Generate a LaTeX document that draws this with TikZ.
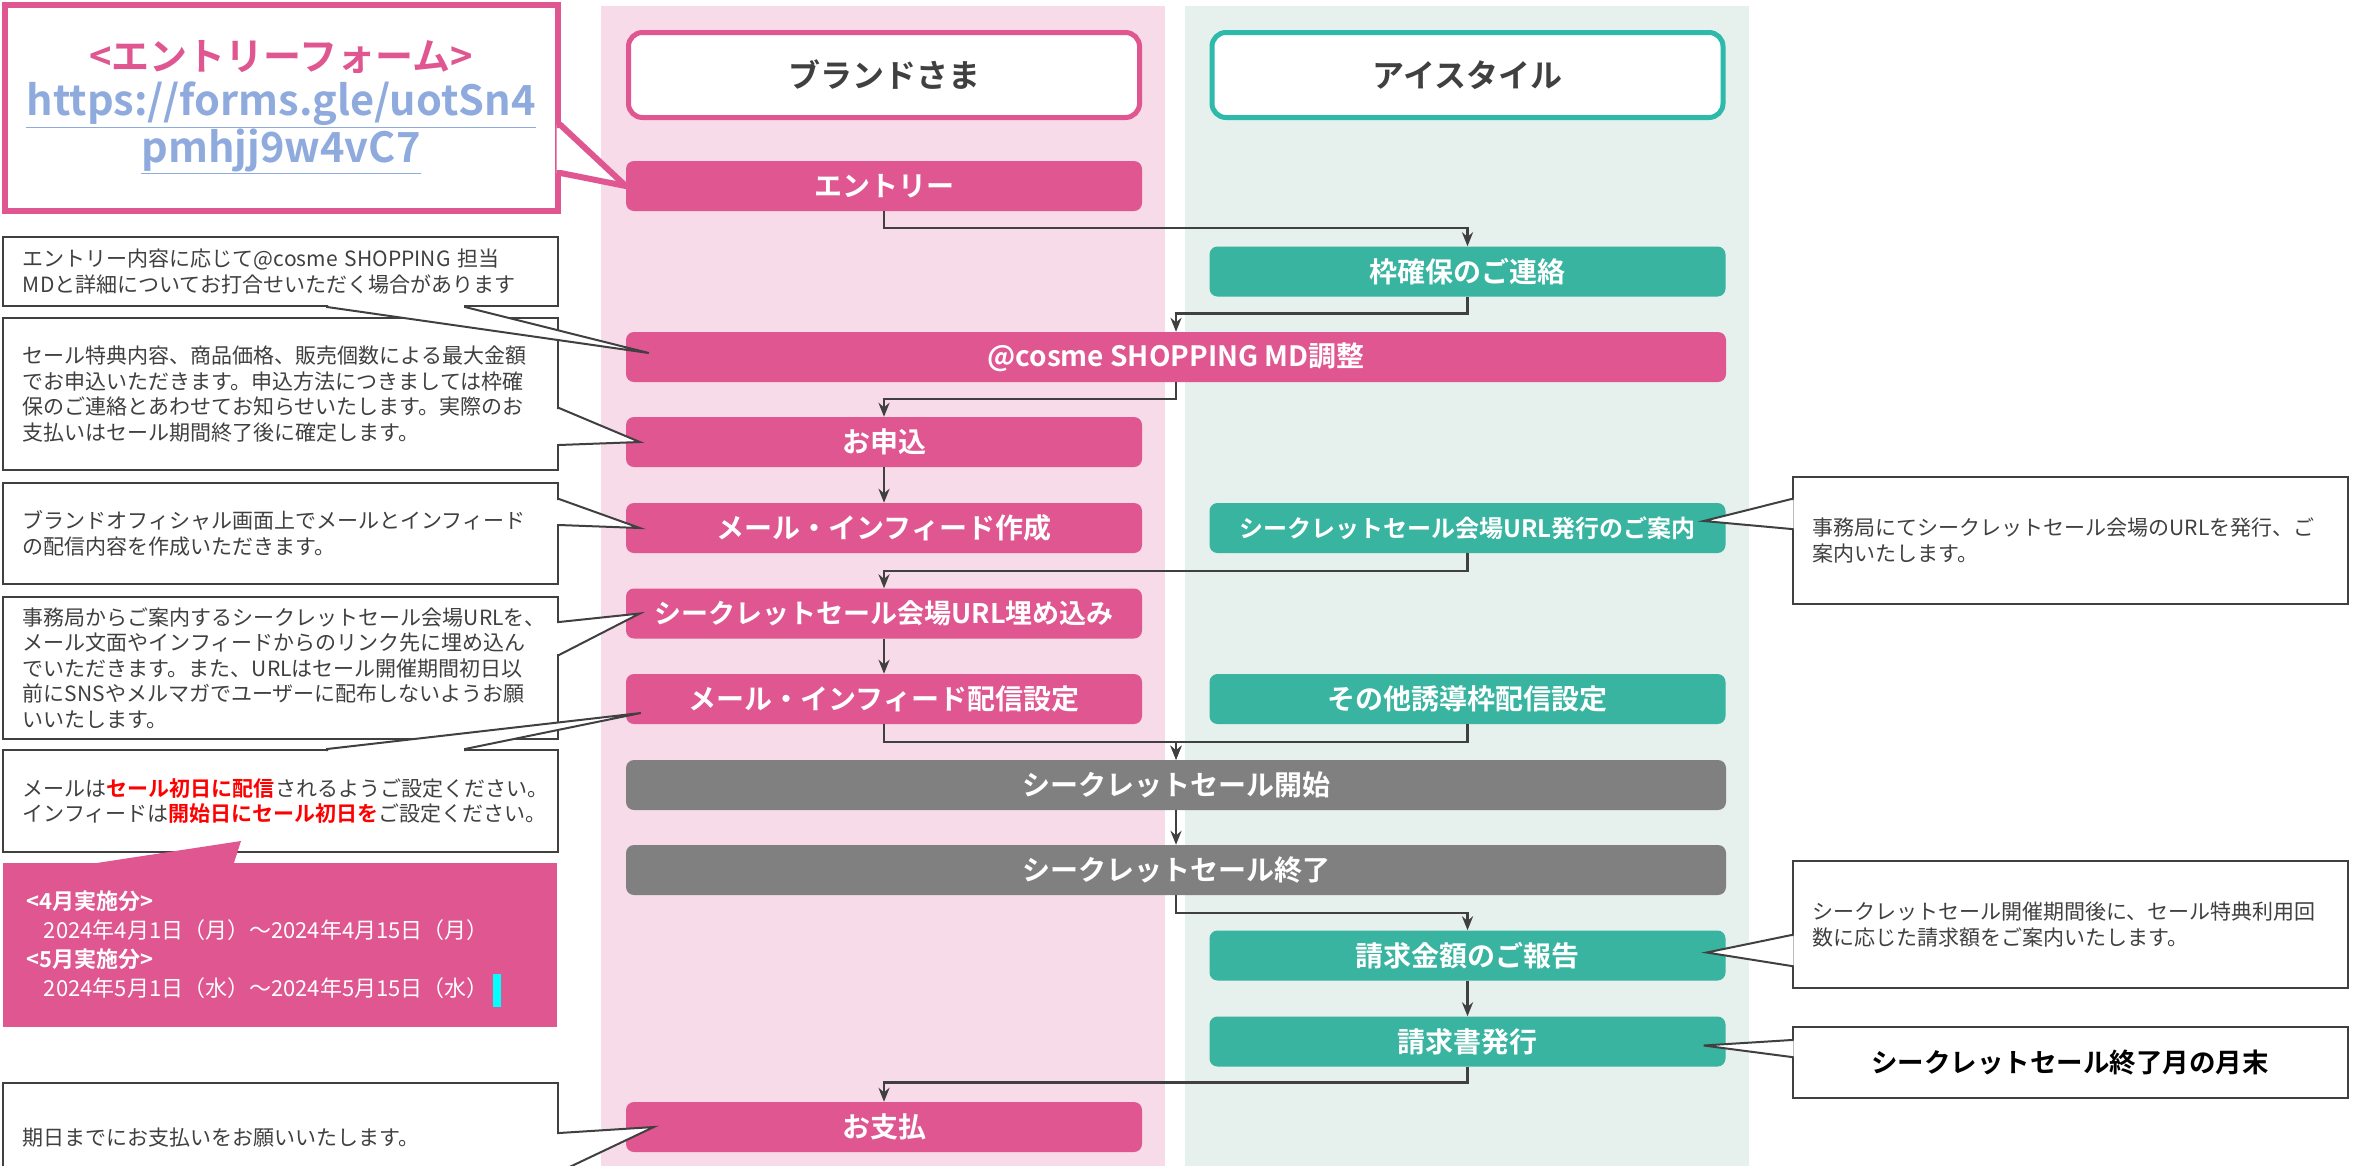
\documentclass[tikz,border=0pt]{standalone}
\usepackage{fontspec}
\setmainfont{Noto Sans CJK JP}[BoldFont={Noto Sans CJK JP Bold}]
\usepackage{tikz}
\usetikzlibrary{arrows.meta, calc}
\definecolor{brand}{RGB}{223, 86, 144}
\definecolor{brandlane}{RGB}{247, 219, 232}
\definecolor{istyle}{RGB}{56, 180, 160}
\definecolor{istyleline}{RGB}{45, 186, 171}
\definecolor{istylelane}{RGB}{230, 240, 236}
\definecolor{shared}{RGB}{128, 128, 128}
\definecolor{ink}{RGB}{64, 64, 64}
\definecolor{urlblue}{RGB}{143, 170, 220}
\definecolor{alert}{RGB}{255, 0, 0}
\definecolor{cursor}{RGB}{0, 255, 255}
\tikzstyle{header} = [rectangle, rounded corners=14pt, minimum width=511pt, minimum height=85pt, line width=5pt, fill=white, text=ink, font={\fontsize{32}{38}\selectfont\bfseries}]
\tikzstyle{brandstep} = [rectangle, rounded corners=8pt, minimum width=516pt, minimum height=50pt, text centered, fill=brand, text=white, font={\fontsize{28}{34}\selectfont\bfseries}]
\tikzstyle{istylestep} = [brandstep, fill=istyle]
\tikzstyle{widestep} = [brandstep, minimum width=1100pt]
\tikzstyle{sharedstep} = [widestep, fill=shared]
\tikzstyle{formbox} = [rectangle, draw=brand, line width=6pt, fill=white, minimum width=553pt, minimum height=206pt, align=center, font={\fontsize{38}{45}\selectfont\bfseries}]
\tikzstyle{formpointer} = [draw=brand, line width=6pt, fill=white]
\tikzstyle{note} = [rectangle, draw=ink, line width=2pt, fill=white, text=ink, minimum width=555pt, text width=515pt, inner xsep=20pt, align=left, font={\fontsize{21}{25.5}\selectfont}]
\tikzstyle{pointer} = [draw=ink, line width=2pt, fill=white]
\tikzstyle{period} = [rectangle, fill=brand, text=white, minimum width=554pt, minimum height=164pt, text width=506pt, inner xsep=24pt, align=left, font={\fontsize{22}{29}\selectfont}]
\tikzstyle{arrow} = [draw=ink, line width=2.5pt, -{Stealth[length=14pt, width=11pt]}]

\begin{document}
\begin{tikzpicture}[x=1pt, y=-1pt]
    \clip (0,0) rectangle (2357,1165);

    % Lanes
    \fill[brandlane] (601,6) rectangle (1165,1175);
    \fill[istylelane] (1185,6) rectangle (1749,1175);

    % Lane headers
    \node[header, draw=brand] (brandhead) at (884,75) {ブランドさま};
    \node[header, draw=istyleline] (istylehead) at (1467.5,75) {アイスタイル};

    % Steps
    \node[brandstep] (entry) at (884,186) {エントリー};
    \node[istylestep] (frame) at (1467.5,271.5) {枠確保のご連絡};
    \node[widestep] (cosme) at (1176,357) {@cosme SHOPPING MD調整};
    \node[brandstep] (apply) at (884,442) {お申込};
    \node[brandstep] (mail) at (884,528) {メール・インフィード作成};
    \node[istylestep, font={\fontsize{24}{30}\selectfont\bfseries}] (urlinfo) at (1467.5,528) {シークレットセール会場URL発行のご案内};
    \node[brandstep, font={\fontsize{27}{33}\selectfont\bfseries}] (embed) at (884,613.5) {シークレットセール会場URL埋め込み};
    \node[brandstep] (deliv) at (884,699) {メール・インフィード配信設定};
    \node[istylestep] (other) at (1467.5,699) {その他誘導枠配信設定};
    \node[sharedstep] (start) at (1176,785) {シークレットセール開始};
    \node[sharedstep] (close) at (1176,870) {シークレットセール終了};
    \node[istylestep] (report) at (1467.5,955.5) {請求金額のご報告};
    \node[istylestep] (invoice) at (1467.5,1041.5) {請求書発行};
    \node[brandstep] (pay) at (884,1127) {お支払};

    % Arrows
    \draw[arrow] (entry.south) -- ++(0,17) -| (frame.north);
    \draw[arrow] (frame.south) -- ++(0,17) -| (cosme.north);
    \draw[arrow] (cosme.south) -- ++(0,17) -| (apply.north);
    \draw[arrow] (apply) -- (mail);
    \draw[arrow] (urlinfo.south) -- ++(0,18) -| (embed.north);
    \draw[arrow] (embed) -- (deliv);
    \draw[arrow] (deliv.south) -- ++(0,18) -| (start.north);
    \draw[arrow] (other.south) -- ++(0,18) -| (start.north);
    \draw[arrow] (start) -- (close);
    \draw[arrow] (close.south) -- ++(0,18) -| (report.north);
    \draw[arrow] (report) -- (invoice);
    \draw[arrow] (invoice.south) -- ++(0,16) -| (pay.north);

    % Entry form
    \node[formbox] (form) at (281,107.5) {\textcolor{brand}{<エントリーフォーム>}\\{\fontsize{41.5}{45}\selectfont\textcolor{urlblue}{\underline{https://forms.gle/uotSn4}}}\\{\fontsize{41.5}{45}\selectfont\textcolor{urlblue}{\underline{pmhjj9w4vC7}}}};
    \filldraw[formpointer] (form.east |- 0,125) ++(-4,0) -- ++(4,0) -- (entry.west) -- (form.east |- 0,173) -- ++(-4,0);

    % Notes on the brand side
    \node[note, minimum height=69pt] (mdnote) at (280.5,271.5) {エントリー内容に応じて@cosme SHOPPING 担当\\MDと詳細についてお打合せいただく場合があります};
    \node[note, minimum height=152pt] (applynote) at (280.5,394) {セール特典内容、商品価格、販売個数による最大金額\\でお申込いただきます。申込方法につきましては枠確\\保のご連絡とあわせてお知らせいたします。実際のお\\支払いはセール期間終了後に確定します。};
    \node[note, minimum height=101pt] (mailnote) at (280.5,533.5) {ブランドオフィシャル画面上でメールとインフィード\\の配信内容を作成いただきます。};
    \node[note, minimum height=142pt] (embednote) at (280.5,668) {事務局からご案内するシークレットセール会場URLを、\\メール文面やインフィードからのリンク先に埋め込ん\\でいただきます。また、URLはセール開催期間初日以\\前にSNSやメルマガでユーザーに配布しないようお願\\いいたします。};
    \node[note, minimum height=102pt] (delivnote) at (280.5,801) {メールは\textcolor{alert}{\bfseries セール初日に配信}されるようご設定ください。\\インフィードは\textcolor{alert}{\bfseries 開始日にセール初日を}ご設定ください。};
    \node[note, minimum height=110pt] (paynote) at (280.5,1138) {期日までにお支払いをお願いいたします。};
    \filldraw[pointer] (mdnote.south -| 327,0) ++(0,-2) -- ++(0,2) -- ($(cosme.west)+(23,-4)$) -- (mdnote.south -| 465,0) -- ++(0,-2);
    \filldraw[pointer] (applynote.east |- 0,408) ++(-2,0) -- ++(2,0) -- ([xshift=14pt]apply.west) -- (applynote.east |- 0,445) -- ++(-2,0);
    \filldraw[pointer] (mailnote.east |- 0,499) ++(-2,0) -- ++(2,0) -- ([xshift=14pt]mail.west) -- (mailnote.east |- 0,525) -- ++(-2,0);
    \filldraw[pointer] (embednote.east |- 0,622) ++(-2,0) -- ++(2,0) -- ([xshift=14pt]embed.west) -- (embednote.east |- 0,655) -- ++(-2,0);
    \filldraw[pointer] (delivnote.north -| 327,0) ++(0,2) -- ++(0,-2) -- ($(deliv.west)+(15,14)$) -- (delivnote.north -| 465,0) -- ++(0,2);
    \filldraw[pointer] (paynote.east |- 0,1133) ++(-2,0) -- ++(2,0) -- ([xshift=28pt]pay.west) -- (paynote.east |- 0,1172) -- ++(-2,0);

    % Sale periods
    \node[period] (dates) at (280,945) {\textbf{<4月実施分>}\\\hspace*{17pt}2024年4月1日（月）～2024年4月15日（月）\\\textbf{<5月実施分>}\\\hspace*{17pt}2024年5月1日（水）～2024年5月15日（水）};
    \fill[brand] (dates.north -| 98,0) -- ($(delivnote.south west)+(239,-12)$) -- (dates.north -| 234,0) -- cycle;
    \fill[cursor] (493,974) rectangle (501,1007);

    % Notes on the istyle side
    \node[note, minimum height=127pt] (urlnote) at (2070,540.5) {事務局にてシークレットセール会場のURLを発行、ご\\案内いたします。};
    \node[note, minimum height=127pt] (reportnote) at (2070,924.5) {シークレットセール開催期間後に、セール特典利用回\\数に応じた請求額をご案内いたします。};
    \node[note, minimum height=71pt, align=center, text=black, font={\fontsize{26.5}{32}\selectfont\bfseries}] (duenote) at (2070,1062.5) {シークレットセール終了月の月末};
    \filldraw[pointer] (urlnote.west |- 0,499) ++(2,0) -- ++(-2,0) -- ($(urlinfo.east)+(-22,-7)$) -- (urlnote.west |- 0,529) -- ++(2,0);
    \filldraw[pointer] (reportnote.west |- 0,935) ++(2,0) -- ++(-2,0) -- ($(report.east)+(-19,-3)$) -- (reportnote.west |- 0,966) -- ++(2,0);
    \filldraw[pointer] (duenote.west |- 0,1040) ++(2,0) -- ++(-2,0) -- ($(invoice.east)+(-22,4)$) -- (duenote.west |- 0,1057) -- ++(2,0);
\end{tikzpicture}
\end{document}
